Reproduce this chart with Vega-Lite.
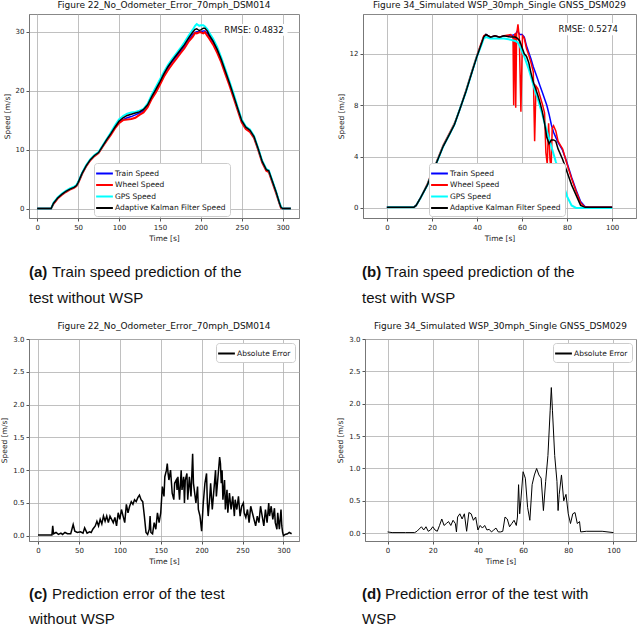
{
  "$schema": "https://vega.github.io/schema/vega-lite/v6.json",
  "padding": {"left": 0, "top": 0, "right": 0, "bottom": 0},
  "background": "white",
  "spacing": 0,
  "resolve": {"scale": {"color": "independent"}, "legend": {"color": "independent"}},
  "datasets": {
    "a": [
      {"t":0,"T":0,"W":0,"G":0,"K":0},{"t":5,"T":0,"W":0,"G":0,"K":0},{"t":10,"T":0,"W":0,"G":0,"K":0},{"t":15,"T":0,"W":0,"G":0,"K":0},{"t":17,"T":0,"W":0,"G":0,"K":0},
      {"t":20,"T":0.9,"W":0.8,"G":1.0,"K":0.9},{"t":25,"T":1.8,"W":1.7,"G":1.9,"K":1.8},{"t":30,"T":2.4,"W":2.3,"G":2.5,"K":2.4},{"t":35,"T":2.9,"W":2.8,"G":3.0,"K":2.9},{"t":40,"T":3.3,"W":3.2,"G":3.4,"K":3.3},
      {"t":45,"T":3.6,"W":3.5,"G":3.7,"K":3.6},{"t":48,"T":3.9,"W":3.8,"G":4.0,"K":3.9},{"t":50,"T":4.4,"W":4.3,"G":4.5,"K":4.4},{"t":55,"T":6.0,"W":5.9,"G":6.1,"K":6.0},{"t":60,"T":7.3,"W":7.2,"G":7.4,"K":7.3},
      {"t":65,"T":8.3,"W":8.2,"G":8.4,"K":8.3},{"t":70,"T":9.0,"W":8.9,"G":9.1,"K":9.0},{"t":75,"T":9.5,"W":9.4,"G":9.6,"K":9.5},{"t":80,"T":10.6,"W":10.5,"G":10.7,"K":10.6},{"t":85,"T":11.7,"W":11.5,"G":11.8,"K":11.7},
      {"t":90,"T":12.7,"W":12.5,"G":12.9,"K":12.7},{"t":95,"T":13.8,"W":13.6,"G":14.1,"K":13.8},{"t":100,"T":14.6,"W":14.5,"G":15.1,"K":14.8},{"t":105,"T":15.1,"W":15.0,"G":15.7,"K":15.4},{"t":110,"T":15.4,"W":15.1,"G":16.1,"K":15.8},
      {"t":115,"T":15.6,"W":15.2,"G":16.3,"K":16.0},{"t":120,"T":15.9,"W":15.4,"G":16.4,"K":16.2},{"t":125,"T":16.2,"W":15.9,"G":16.6,"K":16.4},{"t":130,"T":16.6,"W":16.3,"G":16.9,"K":16.8},{"t":135,"T":17.4,"W":17.2,"G":17.8,"K":17.6},
      {"t":140,"T":18.8,"W":18.6,"G":19.3,"K":19.0},{"t":145,"T":20.0,"W":19.7,"G":20.6,"K":20.2},{"t":150,"T":21.3,"W":21.0,"G":21.9,"K":21.5},{"t":155,"T":22.7,"W":22.4,"G":23.2,"K":22.9},{"t":160,"T":23.9,"W":23.5,"G":24.4,"K":24.1},
      {"t":165,"T":24.9,"W":24.5,"G":25.4,"K":25.1},{"t":170,"T":25.8,"W":25.4,"G":26.3,"K":26.0},{"t":175,"T":26.6,"W":26.3,"G":27.2,"K":26.9},{"t":180,"T":27.5,"W":27.2,"G":28.2,"K":27.8},{"t":185,"T":28.5,"W":28.3,"G":29.3,"K":28.9},
      {"t":190,"T":29.5,"W":29.1,"G":30.3,"K":29.9},{"t":193,"T":29.9,"W":29.8,"G":31.0,"K":30.4},{"t":195,"T":30.0,"W":29.7,"G":31.3,"K":30.5},{"t":198,"T":30.0,"W":29.9,"G":31.0,"K":30.2},{"t":200,"T":30.0,"W":29.9,"G":31.1,"K":30.3},
      {"t":203,"T":30.1,"W":29.7,"G":31.1,"K":30.6},{"t":205,"T":30.1,"W":29.9,"G":30.9,"K":30.6},{"t":208,"T":29.7,"W":29.3,"G":30.4,"K":30.1},{"t":210,"T":29.3,"W":28.9,"G":29.9,"K":29.5},{"t":215,"T":28.2,"W":27.8,"G":28.8,"K":28.4},
      {"t":220,"T":26.8,"W":26.4,"G":27.4,"K":27.0},{"t":225,"T":25.3,"W":24.8,"G":25.6,"K":25.3},{"t":230,"T":23.3,"W":22.8,"G":23.6,"K":23.3},{"t":235,"T":21.3,"W":20.9,"G":21.6,"K":21.3},{"t":240,"T":19.2,"W":18.8,"G":19.5,"K":19.2},
      {"t":245,"T":17.0,"W":16.7,"G":17.2,"K":17.0},{"t":250,"T":14.9,"W":14.6,"G":15.1,"K":14.9},{"t":255,"T":13.8,"W":13.5,"G":13.9,"K":13.8},{"t":260,"T":13.3,"W":13.0,"G":13.4,"K":13.3},{"t":265,"T":12.2,"W":12.0,"G":12.3,"K":12.2},
      {"t":270,"T":10.2,"W":10.0,"G":10.3,"K":10.2},{"t":275,"T":8.0,"W":7.8,"G":8.1,"K":8.0},{"t":280,"T":6.6,"W":6.4,"G":6.7,"K":6.6},{"t":283,"T":6.4,"W":6.2,"G":6.5,"K":6.4},{"t":287,"T":4.8,"W":4.6,"G":4.9,"K":4.8},
      {"t":292,"T":2.8,"W":2.6,"G":2.9,"K":2.8},{"t":296,"T":1.0,"W":0.9,"G":1.1,"K":1.0},{"t":298,"T":0.2,"W":0.1,"G":0.3,"K":0.2},{"t":300,"T":0,"W":0,"G":0,"K":0},{"t":305,"T":0,"W":0,"G":0,"K":0},{"t":310,"T":0,"W":0,"G":0,"K":0}
    ],
    "b": [
      {"t":0,"T":0.05,"G":0.05,"K":0.05},{"t":5,"T":0.05,"G":0.05,"K":0.05},{"t":10,"T":0.05,"G":0.05,"K":0.05},{"t":12,"T":0.06,"G":0.06,"K":0.06},{"t":13,"T":0.2,"G":0.2,"K":0.2},
      {"t":15,"T":0.8,"G":0.8,"K":0.8},{"t":18,"T":1.8,"G":1.8,"K":1.8},{"t":20,"T":2.7,"G":2.7,"K":2.7},{"t":22,"T":3.5,"G":3.5,"K":3.5},{"t":25,"T":4.8,"G":4.8,"K":4.8},
      {"t":28,"T":5.8,"G":5.8,"K":5.8},{"t":30,"T":6.5,"G":6.5,"K":6.5},{"t":32,"T":7.5,"G":7.5,"K":7.5},{"t":35,"T":9.0,"G":9.0,"K":9.0},{"t":38,"T":10.7,"G":10.7,"K":10.7},
      {"t":40,"T":11.8,"G":11.8,"K":11.8},{"t":42,"T":12.8,"G":12.7,"K":12.8},{"t":43,"T":13.3,"G":13.2,"K":13.3},{"t":44,"T":13.5,"G":13.3,"K":13.5},{"t":46,"T":13.3,"G":13.2,"K":13.3},
      {"t":48,"T":13.4,"G":13.2,"K":13.4},{"t":50,"T":13.3,"G":13.2,"K":13.3},{"t":52,"T":13.4,"G":13.2,"K":13.4},{"t":55,"T":13.4,"G":13.1,"K":13.3},{"t":57,"T":13.5,"G":13.0,"K":13.3},
      {"t":58,"T":13.8,"G":12.9,"K":13.2},{"t":59,"T":13.5,"G":12.6,"K":13.0},{"t":60,"T":13.5,"G":12.2,"K":12.5},{"t":61,"T":13.3,"G":11.8,"K":12.0},{"t":62,"T":12.6,"G":11.3,"K":11.8},
      {"t":63,"T":12.1,"G":10.8,"K":11.3},{"t":64,"T":11.6,"G":10.2,"K":10.5},{"t":65,"T":11.0,"G":9.6,"K":9.8},{"t":66,"T":10.5,"G":9.0,"K":9.3},{"t":67,"T":10.0,"G":8.5,"K":8.8},
      {"t":68,"T":9.5,"G":7.9,"K":8.2},{"t":69,"T":9.0,"G":7.3,"K":7.5},{"t":70,"T":8.5,"G":6.6,"K":6.6},{"t":71,"T":8.0,"G":6.0,"K":5.5},{"t":72,"T":7.3,"G":5.4,"K":5.0},
      {"t":73,"T":6.5,"G":4.8,"K":5.3},{"t":74,"T":5.9,"G":4.2,"K":5.3},{"t":75,"T":5.5,"G":3.6,"K":5.2},{"t":76,"T":5.1,"G":3.1,"K":4.6},{"t":78,"T":4.5,"G":2.0,"K":3.8},
      {"t":80,"T":3.5,"G":0.9,"K":2.8},{"t":82,"T":2.4,"G":0.2,"K":1.8},{"t":84,"T":1.4,"G":0.0,"K":1.0},{"t":86,"T":0.5,"G":0.0,"K":0.2},{"t":88,"T":0.1,"G":0.0,"K":0.05},
      {"t":90,"T":0.05,"G":0.0,"K":0.05},{"t":95,"T":0.05,"G":0.0,"K":0.05},{"t":100,"T":0.05,"G":0.0,"K":0.05}
    ],
    "bw": [
      {"t":0,"W":0.05},{"t":10,"W":0.05},{"t":12,"W":0.06},{"t":13,"W":0.2},{"t":15,"W":0.8},{"t":18,"W":1.9},{"t":20,"W":2.8},{"t":22,"W":3.6},{"t":25,"W":4.9},{"t":28,"W":5.9},
      {"t":30,"W":6.6},{"t":32,"W":7.5},{"t":35,"W":9.1},{"t":38,"W":10.8},{"t":40,"W":11.9},{"t":42,"W":12.9},{"t":43,"W":13.4},{"t":44,"W":13.5},{"t":46,"W":13.3},{"t":48,"W":13.4},
      {"t":50,"W":13.3},{"t":52,"W":13.4},{"t":55,"W":13.5},{"t":56,"W":13.3},{"t":56.3,"W":8.0},{"t":56.7,"W":13.4},{"t":57,"W":13.6},{"t":57.2,"W":7.8},{"t":57.6,"W":13.5},{"t":58.2,"W":14.3},
      {"t":58.8,"W":13.2},{"t":59.5,"W":7.5},{"t":60.2,"W":13.4},{"t":61,"W":13.2},{"t":62,"W":12.4},{"t":63,"W":11.9},{"t":64,"W":11.3},{"t":65,"W":10.6},{"t":65.6,"W":5.2},{"t":66.2,"W":9.5},
      {"t":67,"W":9.3},{"t":68,"W":8.7},{"t":69,"W":8.1},{"t":70,"W":7.4},{"t":70.6,"W":4.3},{"t":71.2,"W":3.4},{"t":71.8,"W":6.6},{"t":72.4,"W":3.8},{"t":72.9,"W":3.0},{"t":73.4,"W":6.2},
      {"t":74,"W":6.4},{"t":75,"W":6.0},{"t":76,"W":5.2},{"t":77,"W":4.9},{"t":78,"W":4.6},{"t":80,"W":3.4},{"t":82,"W":2.3},{"t":84,"W":1.3},{"t":86,"W":0.4},{"t":88,"W":0.05},{"t":100,"W":0.05}
    ],
    "c": [
      {"t":0,"e":0.01},{"t":10,"e":0.01},{"t":17,"e":0.01},{"t":18,"e":0.15},{"t":19,"e":0.03},{"t":22,"e":0.05},{"t":25,"e":0.02},{"t":28,"e":0.04},{"t":30,"e":0.02},{"t":33,"e":0.05},
      {"t":36,"e":0.03},{"t":40,"e":0.03},{"t":43,"e":0.17},{"t":45,"e":0.07},{"t":48,"e":0.05},{"t":52,"e":0.06},{"t":55,"e":0.04},{"t":57,"e":0.12},{"t":60,"e":0.04},{"t":63,"e":0.06},
      {"t":65,"e":0.05},{"t":67,"e":0.1},{"t":70,"e":0.15},{"t":72,"e":0.22},{"t":74,"e":0.15},{"t":76,"e":0.25},{"t":78,"e":0.18},{"t":80,"e":0.3},{"t":82,"e":0.22},{"t":84,"e":0.3},
      {"t":86,"e":0.2},{"t":88,"e":0.3},{"t":90,"e":0.25},{"t":92,"e":0.2},{"t":94,"e":0.28},{"t":96,"e":0.15},{"t":98,"e":0.35},{"t":100,"e":0.25},{"t":102,"e":0.4},{"t":104,"e":0.3},
      {"t":106,"e":0.2},{"t":108,"e":0.48},{"t":110,"e":0.35},{"t":112,"e":0.45},{"t":114,"e":0.52},{"t":116,"e":0.48},{"t":118,"e":0.55},{"t":120,"e":0.52},{"t":122,"e":0.58},{"t":124,"e":0.62},
      {"t":126,"e":0.55},{"t":128,"e":0.52},{"t":130,"e":0.3},{"t":132,"e":0.05},{"t":134,"e":0.02},{"t":136,"e":0.1},{"t":137,"e":0.3},{"t":138,"e":0.05},{"t":140,"e":0.03},{"t":142,"e":0.2},
      {"t":144,"e":0.1},{"t":146,"e":0.35},{"t":148,"e":0.2},{"t":150,"e":0.35},{"t":151,"e":0.55},{"t":152,"e":0.75},{"t":154,"e":0.6},{"t":155,"e":0.9},{"t":157,"e":1.0},{"t":158,"e":1.1},
      {"t":159,"e":0.95},{"t":160,"e":0.85},{"t":162,"e":1.0},{"t":164,"e":0.65},{"t":166,"e":0.55},{"t":167,"e":0.8},{"t":169,"e":0.85},{"t":170,"e":0.7},{"t":171,"e":0.9},{"t":173,"e":0.55},
      {"t":175,"e":1.0},{"t":176,"e":0.7},{"t":178,"e":0.9},{"t":179,"e":0.5},{"t":180,"e":0.85},{"t":182,"e":0.95},{"t":183,"e":0.55},{"t":185,"e":0.9},{"t":187,"e":0.6},{"t":189,"e":1.25},
      {"t":190,"e":0.8},{"t":192,"e":0.6},{"t":193,"e":0.5},{"t":195,"e":0.75},{"t":196,"e":0.4},{"t":198,"e":0.3},{"t":200,"e":0.07},{"t":202,"e":0.5},{"t":204,"e":0.8},{"t":206,"e":0.95},
      {"t":207,"e":0.5},{"t":208,"e":0.3},{"t":210,"e":0.6},{"t":211,"e":0.8},{"t":213,"e":0.4},{"t":215,"e":0.7},{"t":217,"e":1.0},{"t":218,"e":0.6},{"t":220,"e":0.9},{"t":222,"e":1.2},
      {"t":223,"e":1.1},{"t":224,"e":0.8},{"t":225,"e":1.0},{"t":226,"e":0.55},{"t":228,"e":0.85},{"t":229,"e":0.4},{"t":231,"e":0.7},{"t":232,"e":0.35},{"t":234,"e":0.65},{"t":236,"e":0.4},
      {"t":238,"e":0.6},{"t":240,"e":0.3},{"t":241,"e":0.55},{"t":243,"e":0.4},{"t":245,"e":0.6},{"t":247,"e":0.3},{"t":249,"e":0.45},{"t":251,"e":0.5},{"t":252,"e":0.35},{"t":254,"e":0.28},
      {"t":256,"e":0.4},{"t":258,"e":0.2},{"t":260,"e":0.45},{"t":262,"e":0.35},{"t":264,"e":0.25},{"t":266,"e":0.15},{"t":268,"e":0.3},{"t":270,"e":0.2},{"t":272,"e":0.45},{"t":274,"e":0.3},
      {"t":276,"e":0.15},{"t":278,"e":0.4},{"t":280,"e":0.2},{"t":282,"e":0.5},{"t":283,"e":0.3},{"t":285,"e":0.45},{"t":287,"e":0.25},{"t":289,"e":0.42},{"t":290,"e":0.2},{"t":292,"e":0.1},
      {"t":293,"e":0.35},{"t":295,"e":0.1},{"t":297,"e":0.4},{"t":298,"e":0.15},{"t":299,"e":0.05},{"t":300,"e":0.0},{"t":302,"e":0.02},{"t":305,"e":0.03},{"t":307,"e":0.05},{"t":310,"e":0.03}
    ],
    "d": [
      {"t":0,"e":0.02},{"t":2,"e":0.01},{"t":8,"e":0.01},{"t":12,"e":0.01},{"t":13,"e":0.03},{"t":15,"e":0.1},{"t":16,"e":0.05},{"t":17,"e":0.1},{"t":18,"e":0.03},{"t":19,"e":0.05},
      {"t":20,"e":0.1},{"t":21,"e":0.05},{"t":22,"e":0.03},{"t":23,"e":0.12},{"t":24,"e":0.22},{"t":25,"e":0.12},{"t":26,"e":0.15},{"t":27,"e":0.18},{"t":28,"e":0.12},{"t":29,"e":0.2},
      {"t":30,"e":0.15},{"t":30.5,"e":0.02},{"t":31,"e":0.25},{"t":32,"e":0.3},{"t":33,"e":0.22},{"t":34,"e":0.3},{"t":35,"e":0.03},{"t":36,"e":0.32},{"t":37,"e":0.3},{"t":38,"e":0.2},
      {"t":39,"e":0.25},{"t":40,"e":0.05},{"t":41,"e":0.12},{"t":42,"e":0.08},{"t":43,"e":0.12},{"t":44,"e":0.05},{"t":45,"e":0.06},{"t":46,"e":0.02},{"t":47,"e":0.05},{"t":48,"e":0.08},
      {"t":49,"e":0.02},{"t":50,"e":0.02},{"t":51,"e":0.03},{"t":52,"e":0.25},{"t":53,"e":0.22},{"t":54,"e":0.1},{"t":55,"e":0.15},{"t":56,"e":0.2},{"t":57,"e":0.12},{"t":57.5,"e":0.25},
      {"t":58,"e":0.75},{"t":58.5,"e":0.3},{"t":59,"e":0.5},{"t":60,"e":0.95},{"t":61,"e":0.85},{"t":62,"e":0.4},{"t":63,"e":0.2},{"t":64,"e":0.75},{"t":65,"e":0.9},{"t":66,"e":1.0},
      {"t":67,"e":0.9},{"t":68,"e":0.85},{"t":69,"e":0.35},{"t":70,"e":0.8},{"t":71,"e":1.2},{"t":72,"e":1.9},{"t":72.5,"e":2.25},{"t":73,"e":1.9},{"t":74,"e":1.2},{"t":75,"e":0.8},
      {"t":75.5,"e":0.35},{"t":76,"e":0.6},{"t":77,"e":0.9},{"t":78,"e":0.5},{"t":79,"e":0.6},{"t":80,"e":0.3},{"t":81,"e":0.15},{"t":82,"e":0.3},{"t":83,"e":0.32},{"t":84,"e":0.15},
      {"t":85,"e":0.18},{"t":85.5,"e":0.02},{"t":88,"e":0.03},{"t":95,"e":0.03},{"t":100,"e":0.01}
    ]
  },
  "vconcat": [
    {
      "hconcat": [
        {
          "title": "Figure 22_No_Odometer_Error_70mph_DSM014",
          "width": 270, "height": 204,
          "layer": [
            {"data": {"name": "a"}, "mark": {"type": "line", "strokeWidth": 1.5}, "encoding": {"x": {"field": "t", "type": "quantitative", "scale": {"domain": [-10, 320], "nice": false, "zero": false}, "axis": {"values": [0, 50, 100, 150, 200, 250, 300], "title": "Time [s]"}}, "y": {"field": "T", "type": "quantitative", "scale": {"domain": [-1.6, 33], "nice": false, "zero": false}, "axis": {"values": [0, 5, 10, 15, 20, 25, 30], "title": "Speed [m/s]"}}, "color": {"datum": "Train Speed", "type": "nominal", "scale": {"domain": ["Train Speed", "Wheel Speed", "GPS Speed", "Adaptive Kalman Filter Speed"], "range": ["#0000ff", "#ff0000", "#00ffff", "#000000"]}, "legend": {"title": null, "orient": "none", "legendX": 65, "legendY": 149}}}},
            {"data": {"name": "a"}, "mark": {"type": "line", "strokeWidth": 2}, "encoding": {"x": {"field": "t", "type": "quantitative"}, "y": {"field": "W", "type": "quantitative"}, "color": {"datum": "Wheel Speed", "type": "nominal"}}},
            {"data": {"name": "a"}, "mark": {"type": "line", "strokeWidth": 2}, "encoding": {"x": {"field": "t", "type": "quantitative"}, "y": {"field": "G", "type": "quantitative"}, "color": {"datum": "GPS Speed", "type": "nominal"}}},
            {"data": {"name": "a"}, "mark": {"type": "line", "strokeWidth": 1.5}, "encoding": {"x": {"field": "t", "type": "quantitative"}, "y": {"field": "K", "type": "quantitative"}, "color": {"datum": "Adaptive Kalman Filter Speed", "type": "nominal"}}},
            {"data": {"values": [{}]}, "mark": {"type": "rect", "color": "white"}, "encoding": {"x": {"datum": 225}, "x2": {"datum": 306}, "y": {"datum": 29.3}, "y2": {"datum": 31.3}}},
            {"data": {"values": [{}]}, "mark": {"type": "text", "fontSize": 8.5, "font": "DejaVu Sans", "color": "#111"}, "encoding": {"x": {"datum": 265}, "y": {"datum": 30.3}, "text": {"value": "RMSE: 0.4832"}}}
          ]
        },
        {
          "title": "Figure 34_Simulated WSP_30mph_Single GNSS_DSM029",
          "width": 273, "height": 204,
          "layer": [
            {"data": {"name": "b"}, "mark": {"type": "line", "strokeWidth": 1.5}, "encoding": {"x": {"field": "t", "type": "quantitative", "scale": {"domain": [-10.6, 110.6], "nice": false, "zero": false}, "axis": {"values": [0, 20, 40, 60, 80, 100], "title": "Time [s]"}}, "y": {"field": "T", "type": "quantitative", "scale": {"domain": [-0.78, 15.1], "nice": false, "zero": false}, "axis": {"values": [0, 2, 4, 6, 8, 10, 12, 14], "title": "Speed [m/s]"}}, "color": {"datum": "Train Speed", "type": "nominal", "scale": {"domain": ["Train Speed", "Wheel Speed", "GPS Speed", "Adaptive Kalman Filter Speed"], "range": ["#0000ff", "#ff0000", "#00ffff", "#000000"]}, "legend": {"title": null, "orient": "none", "legendX": 66, "legendY": 149}}}},
            {"data": {"name": "bw"}, "mark": {"type": "line", "strokeWidth": 1.5}, "encoding": {"x": {"field": "t", "type": "quantitative"}, "y": {"field": "W", "type": "quantitative"}, "color": {"datum": "Wheel Speed", "type": "nominal"}}},
            {"data": {"name": "b"}, "mark": {"type": "line", "strokeWidth": 2}, "encoding": {"x": {"field": "t", "type": "quantitative"}, "y": {"field": "G", "type": "quantitative"}, "color": {"datum": "GPS Speed", "type": "nominal"}}},
            {"data": {"name": "b"}, "mark": {"type": "line", "strokeWidth": 1.5}, "encoding": {"x": {"field": "t", "type": "quantitative"}, "y": {"field": "K", "type": "quantitative"}, "color": {"datum": "Adaptive Kalman Filter Speed", "type": "nominal"}}},
            {"data": {"values": [{}]}, "mark": {"type": "rect", "color": "white"}, "encoding": {"x": {"datum": 74}, "x2": {"datum": 105}, "y": {"datum": 13.45}, "y2": {"datum": 14.4}}},
            {"data": {"values": [{}]}, "mark": {"type": "text", "fontSize": 8.5, "font": "DejaVu Sans", "color": "#111"}, "encoding": {"x": {"datum": 89.4}, "y": {"datum": 13.9}, "text": {"value": "RMSE: 0.5274"}}}
          ]
        }
      ],
      "spacing": 36,
      "resolve": {"scale": {"color": "independent"}, "legend": {"color": "independent"}}
    },
    {
      "hconcat": [
        {
          "width": 300, "height": 79, "view": {"stroke": null},
          "layer": [
            {"data": {"values": [{"line": 1, "txt": "(a)"}]}, "mark": {"type": "text", "align": "left", "baseline": "middle", "font": "Liberation Sans", "fontSize": 15, "fontWeight": "bold", "color": "#111", "x": 0}, "encoding": {"y": {"field": "line", "type": "ordinal", "axis": null, "scale": {"type": "point", "domain": [1, 2], "range": [30, 56], "padding": 0}}, "text": {"field": "txt"}}},
            {"data": {"values": [{"line": 1, "txt": "Train speed prediction of the"}]}, "mark": {"type": "text", "align": "left", "baseline": "middle", "font": "Liberation Sans", "fontSize": 15, "color": "#111", "x": 0, "dx": 23}, "encoding": {"y": {"field": "line", "type": "ordinal", "axis": null}, "text": {"field": "txt"}}},
            {"data": {"values": [{"line": 2, "txt": "test without WSP"}]}, "mark": {"type": "text", "align": "left", "baseline": "middle", "font": "Liberation Sans", "fontSize": 15, "color": "#111", "x": 0}, "encoding": {"y": {"field": "line", "type": "ordinal", "axis": null}, "text": {"field": "txt"}}}
          ]
        },
        {
          "width": 300, "height": 79, "view": {"stroke": null},
          "layer": [
            {"data": {"values": [{"line": 1, "txt": "(b)"}]}, "mark": {"type": "text", "align": "left", "baseline": "middle", "font": "Liberation Sans", "fontSize": 15, "fontWeight": "bold", "color": "#111", "x": 0}, "encoding": {"y": {"field": "line", "type": "ordinal", "axis": null, "scale": {"type": "point", "domain": [1, 2], "range": [30, 56], "padding": 0}}, "text": {"field": "txt"}}},
            {"data": {"values": [{"line": 1, "txt": "Train speed prediction of the"}]}, "mark": {"type": "text", "align": "left", "baseline": "middle", "font": "Liberation Sans", "fontSize": 15, "color": "#111", "x": 0, "dx": 23}, "encoding": {"y": {"field": "line", "type": "ordinal", "axis": null}, "text": {"field": "txt"}}},
            {"data": {"values": [{"line": 2, "txt": "test with WSP"}]}, "mark": {"type": "text", "align": "left", "baseline": "middle", "font": "Liberation Sans", "fontSize": 15, "color": "#111", "x": 0}, "encoding": {"y": {"field": "line", "type": "ordinal", "axis": null}, "text": {"field": "txt"}}}
          ]
        }
      ],
      "spacing": 33
    },
    {
      "hconcat": [
        {
          "title": "Figure 22_No_Odometer_Error_70mph_DSM014",
          "width": 270, "height": 202,
          "data": {"name": "c"},
          "mark": {"type": "line", "strokeWidth": 1.5},
          "encoding": {
            "x": {"field": "t", "type": "quantitative", "scale": {"domain": [-11, 319], "nice": false, "zero": false}, "axis": {"values": [0, 50, 100, 150, 200, 250, 300], "title": "Time [s]"}},
            "y": {"field": "e", "type": "quantitative", "scale": {"domain": [-0.08, 3.0], "nice": false, "zero": false}, "axis": {"values": [0, 0.5, 1, 1.5, 2, 2.5, 3], "format": ".1f", "title": "Speed [m/s]"}},
            "color": {"datum": "Absolute Error", "type": "nominal", "scale": {"domain": ["Absolute Error"], "range": ["#000000"]}, "legend": {"title": null, "orient": "top-right", "offset": 4}}
          }
        },
        {
          "title": "Figure 34_Simulated WSP_30mph_Single GNSS_DSM029",
          "width": 271, "height": 202,
          "data": {"name": "d"},
          "mark": {"type": "line", "strokeWidth": 1},
          "encoding": {
            "x": {"field": "t", "type": "quantitative", "scale": {"domain": [-10, 110], "nice": false, "zero": false}, "axis": {"values": [0, 20, 40, 60, 80, 100], "title": "Time [s]"}},
            "y": {"field": "e", "type": "quantitative", "scale": {"domain": [-0.12, 3.0], "nice": false, "zero": false}, "axis": {"values": [0, 0.5, 1, 1.5, 2, 2.5, 3], "format": ".1f", "title": "Speed [m/s]"}},
            "color": {"datum": "Absolute Error", "type": "nominal", "scale": {"domain": ["Absolute Error"], "range": ["#000000"]}, "legend": {"title": null, "orient": "top-right", "offset": 4}}
          }
        }
      ],
      "spacing": 36,
      "resolve": {"scale": {"color": "independent"}, "legend": {"color": "independent"}}
    },
    {
      "hconcat": [
        {
          "width": 300, "height": 60, "view": {"stroke": null},
          "layer": [
            {"data": {"values": [{"line": 1, "txt": "(c)"}]}, "mark": {"type": "text", "align": "left", "baseline": "middle", "font": "Liberation Sans", "fontSize": 15, "fontWeight": "bold", "color": "#111", "x": 0}, "encoding": {"y": {"field": "line", "type": "ordinal", "axis": null, "scale": {"type": "point", "domain": [1, 2], "range": [29, 54], "padding": 0}}, "text": {"field": "txt"}}},
            {"data": {"values": [{"line": 1, "txt": "Prediction error of the test"}]}, "mark": {"type": "text", "align": "left", "baseline": "middle", "font": "Liberation Sans", "fontSize": 15, "color": "#111", "x": 0, "dx": 23}, "encoding": {"y": {"field": "line", "type": "ordinal", "axis": null}, "text": {"field": "txt"}}},
            {"data": {"values": [{"line": 2, "txt": "without WSP"}]}, "mark": {"type": "text", "align": "left", "baseline": "middle", "font": "Liberation Sans", "fontSize": 15, "color": "#111", "x": 0}, "encoding": {"y": {"field": "line", "type": "ordinal", "axis": null}, "text": {"field": "txt"}}}
          ]
        },
        {
          "width": 300, "height": 60, "view": {"stroke": null},
          "layer": [
            {"data": {"values": [{"line": 1, "txt": "(d)"}]}, "mark": {"type": "text", "align": "left", "baseline": "middle", "font": "Liberation Sans", "fontSize": 15, "fontWeight": "bold", "color": "#111", "x": 0}, "encoding": {"y": {"field": "line", "type": "ordinal", "axis": null, "scale": {"type": "point", "domain": [1, 2], "range": [29, 54], "padding": 0}}, "text": {"field": "txt"}}},
            {"data": {"values": [{"line": 1, "txt": "Prediction error of the test with"}]}, "mark": {"type": "text", "align": "left", "baseline": "middle", "font": "Liberation Sans", "fontSize": 15, "color": "#111", "x": 0, "dx": 23}, "encoding": {"y": {"field": "line", "type": "ordinal", "axis": null}, "text": {"field": "txt"}}},
            {"data": {"values": [{"line": 2, "txt": "WSP"}]}, "mark": {"type": "text", "align": "left", "baseline": "middle", "font": "Liberation Sans", "fontSize": 15, "color": "#111", "x": 0}, "encoding": {"y": {"field": "line", "type": "ordinal", "axis": null}, "text": {"field": "txt"}}}
          ]
        }
      ],
      "spacing": 33
    }
  ],
  "config": {
    "font": "DejaVu Sans",
    "view": {"stroke": "#888", "strokeWidth": 1},
    "axis": {"labelFontSize": 7, "titleFontSize": 7.5, "titleFontWeight": "normal", "labelColor": "#222", "titleColor": "#222", "labelFont": "DejaVu Sans", "titleFont": "DejaVu Sans", "gridColor": "#b0b0b0", "gridWidth": 0.8, "domainColor": "#777", "tickColor": "#555", "tickSize": 3, "labelPadding": 2, "titlePadding": 4, "labelFlush": false},
    "title": {"fontSize": 9, "fontWeight": "normal", "font": "DejaVu Sans", "color": "#111", "offset": 4},
    "legend": {"labelFontSize": 7.5, "labelFont": "DejaVu Sans", "labelColor": "#111", "symbolType": "M-1.6,0H1.6", "symbolStrokeWidth": 2, "symbolSize": 110, "symbolFillColor": "transparent", "fillColor": "white", "strokeColor": "#cccccc", "padding": 4, "cornerRadius": 3, "rowPadding": 0.5, "labelLimit": 200}
  }
}
